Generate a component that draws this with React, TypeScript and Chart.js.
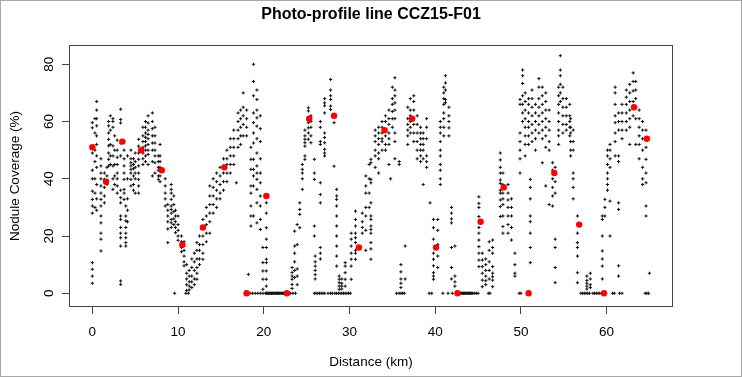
import { useEffect, useRef } from "react";
import { Chart, registerables } from "chart.js";

Chart.register(...registerables);

const chartTitle = "Photo-profile line CCZ15-F01";
const xAxisLabel = "Distance (km)";
const yAxisLabel = "Nodule Coverage (%)";
const xTicks = [0, 10, 20, 30, 40, 50, 60];
const yTicks = [0, 20, 40, 60, 80];
const xRange = [-2.61, 67.63];
const yRange = [-4.44, 86.39];

// red dots (per-station averages)
const meanKm = [0, 1.6, 3.5, 5.7, 8.1, 10.5, 12.9, 15.4, 18.0, 20.3, 22.7, 25.3, 28.2, 31.1, 34.1, 37.3, 40.1, 42.6, 45.3, 48.0, 50.9, 53.9, 56.8, 59.7, 63.2, 64.7];
const meanCoverage = [51, 39, 53, 50, 43, 17, 23, 44, 0, 34, 0, 61, 62, 16, 57, 61, 16, 0, 25, 37, 0, 42, 24, 0, 65, 54];

// photo readings with zero coverage
const zeroKm = [
  9.6, 10.9, 11.2,
  18.4, 18.7, 19.0, 19.3, 19.6, 19.9,
  20.2, 20.3, 20.4, 20.5, 20.6, 20.7, 20.8, 20.9, 21.0, 21.1, 21.2, 21.3, 21.4, 21.5, 21.6, 21.7, 21.8, 21.9, 22.0, 22.1, 22.2, 22.3, 22.4, 22.5, 22.6, 22.8, 22.9, 23.1, 23.4, 23.7,
  25.9, 26.1, 26.3, 26.5, 26.7, 26.9, 27.1, 27.5, 27.8, 28.0, 28.3, 28.5, 28.7, 28.9, 29.1, 29.3, 29.5, 29.7, 29.9, 30.1,
  35.5, 35.8, 36.0, 36.2, 36.4,
  39.3, 39.6, 40.9, 41.5, 42.0,
  42.8, 42.9, 43.0, 43.1, 43.2, 43.3, 43.4, 43.5, 43.6, 43.7, 43.8, 43.9, 44.0, 44.1, 44.2, 44.3, 44.4, 44.6, 44.8, 45.0,
  46.2, 46.4,
  49.8, 50.0, 51.0,
  57.0, 57.2, 57.4, 57.6, 57.8, 58.0, 58.4, 58.6, 58.8, 59.0, 59.2, 59.4, 60.7, 60.9, 61.5, 61.8,
  64.5, 64.7, 64.9,
];

// [distance km, coverage readings %]
const segmentKm0to9: [number, number[]][] = [
  [0.0, [59.6, 57.8, 49, 43, 40, 35.7, 32.8, 30.5, 28, 10.7, 8.4, 6, 3.5]],
  [0.3, [61, 56, 50, 46, 40, 35, 30]],
  [0.5, [67, 64, 61, 58.5, 55, 52, 48, 44, 38, 33, 29]],
  [1.0, [47, 44.5, 42, 40, 37.5, 35, 32.8, 30.5, 27, 24.6, 21, 18.9, 14.8]],
  [1.4, [42, 39.8, 37, 34, 31.6]],
  [1.7, [44, 41, 38]],
  [1.9, [60, 58.5, 56, 53.8, 51.5, 49, 46.8, 44.5]],
  [2.1, [62, 57, 52, 48, 45]],
  [2.4, [61, 60, 58, 51.5, 48, 44.5, 40, 36.3]],
  [2.6, [55, 50, 45, 41, 38]],
  [2.9, [53.5, 50, 47.5, 45, 42, 40, 37.5, 35]],
  [3.3, [64.3, 60.7, 59.5, 52.5, 48, 36, 33.4, 31.6, 27, 25.8, 23, 21, 19.4, 16.5, 4.3, 3.1]],
  [3.7, [50, 47, 44.5, 42, 39.8, 36.3, 35, 32.8]],
  [3.9, [30.5, 27, 25.3, 23, 21, 19.4, 17.7, 16.5]],
  [4.1, [48, 40, 33, 29, 25]],
  [4.5, [50, 47, 45.6, 44.5, 43.3, 42, 39.8, 37.5]],
  [4.8, [47, 45, 43.5, 41, 38, 36]],
  [5.0, [49, 46, 44, 42, 40, 35]],
  [5.4, [53.8, 51.4, 49, 46.8, 44.5, 42, 39.8, 37.5, 35]],
  [5.9, [58, 55, 53, 51, 49, 47, 45]],
  [6.2, [60, 58, 56, 54.5, 53, 51.5, 50, 48, 46]],
  [6.5, [62, 59.5, 57, 55.5, 54, 52, 50, 48.5, 45]],
  [7.0, [63, 60, 57.5, 55, 52.5, 50, 46, 41]],
  [7.3, [58, 55, 52.5, 50, 48, 45.6, 42]],
  [7.7, [48, 46, 44, 43, 41, 39.8]],
  [7.9, [52, 48, 46, 44, 41, 39]],
  [8.5, [40, 37.5, 35, 33, 30.5]],
  [8.8, [31, 29, 27, 25, 22.5, 17.7]],
];

const segmentKm9to18: [number, number[]][] = [
  [9.2, [38, 36.3, 35, 32.8, 30.5, 29.3, 28, 25.8, 24.6, 23]],
  [9.5, [34, 31, 28.5, 26, 24]],
  [9.7, [29, 27, 25, 23, 21.2]],
  [10.0, [27, 24, 22, 20, 18.5]],
  [10.4, [20, 18, 16, 14.5]],
  [10.7, [18, 15, 13, 11, 9.6]],
  [11.0, [10, 7, 5, 3, 1]],
  [11.3, [8, 6, 4, 2.5, 1.2]],
  [11.6, [12, 9, 6, 4, 2]],
  [11.9, [14, 11, 8, 5, 3]],
  [12.2, [17.7, 15, 12, 9, 7, 4.9]],
  [12.5, [20, 17, 15, 12, 10]],
  [12.9, [25.8, 23, 20, 17, 14, 11.9]],
  [13.3, [30, 27, 24, 21, 18]],
  [13.7, [37.5, 34, 31, 28, 25, 21]],
  [14.1, [40, 37, 34, 31, 28]],
  [14.5, [42, 39, 36, 33, 30]],
  [14.9, [44, 41, 38, 35, 33]],
  [15.3, [47, 44.5, 42, 39, 36]],
  [15.7, [50, 47, 45, 42, 39]],
  [16.1, [54, 51, 48, 45, 42]],
  [16.5, [57, 54, 51, 48, 45]],
  [16.8, [38.6]],
  [17.0, [63, 60, 57, 54, 51]],
  [17.3, [64, 61, 58, 55, 52]],
  [17.6, [70, 65, 62, 59, 55]],
  [18.0, [64, 61, 58, 55]],
];

const segmentKm18to32: [number, number[]][] = [
  [18.2, [6.6]],
  [18.5, [51, 46.8, 43.3, 37.5, 35, 30.5, 27, 23.5]],
  [18.8, [80, 74, 69, 63, 59.6, 56, 52.5, 46.8, 43.3, 41, 37.5, 27]],
  [19.2, [71, 67.7, 64, 61.3, 58.4, 54, 49, 44.5, 42, 39.8, 36.3, 31.6, 24.6]],
  [19.6, [62, 57.5, 53, 47, 42, 38.6, 34, 30.5, 25.8, 22.3]],
  [19.9, [16, 10.7, 7.8, 4.9, 1.4]],
  [20.3, [31.6, 28, 22.9, 18.9, 16, 11.9, 10.7, 7.8, 4.9, 2.5]],
  [23.3, [9, 7.3, 6, 4.9, 3.1, 1.7]],
  [23.6, [21.7, 16.5, 14, 11, 8, 5.5]],
  [23.9, [24, 17, 8.5, 6, 3]],
  [24.2, [31.6, 29.3, 27.6, 22.9]],
  [24.5, [36.3, 40, 42, 43.3, 45]],
  [24.8, [46.8, 48, 51.4, 52.6, 53.8, 55, 57]],
  [25.2, [64.8, 63.7, 59.6, 57.8, 56, 53.8]],
  [25.5, [62, 60, 58, 55, 52.6]],
  [25.9, [46.8, 42, 39.8, 23.5, 20]],
  [26.0, [13, 11, 9.5, 8, 6.5, 5]],
  [26.6, [60, 58, 53, 52, 38.6, 34.5, 31.6, 16, 14, 12]],
  [27.1, [68, 66.5, 65.5, 63, 56, 54.4, 52.6, 50.3, 49, 48]],
  [27.8, [74.7, 71, 69, 67.7, 65.4, 64.2]],
  [28.2, [59.6, 44.4]],
  [28.5, [36.3, 34, 32.8, 30.5, 27, 23.5, 20, 16.5, 13, 9.5]],
  [28.8, [6, 4.9, 3.7, 2.5, 1.4]],
  [29.1, [5, 3.5, 2.5, 1.5]],
  [29.5, [10.7, 9.5, 7.2, 4.9, 2.5]],
  [30.2, [21, 18.9, 16.5, 14, 11.9, 9.5, 4.9]],
  [30.7, [28.7, 25.8, 23.5, 21, 19.4, 17.7, 15, 14, 11.9]],
  [31.5, [28, 25, 23, 21]],
  [31.9, [41, 37.5, 35, 30, 27, 22, 15]],
  [32.3, [45, 40, 35, 30]],
];

const segmentKm32to45: [number, number[]][] = [
  [32.5, [46.8, 45.6, 39.8, 38.6, 31.6, 27, 25.8, 23.5, 22.3, 21, 17.7, 15.5, 11.9]],
  [33.0, [57, 55, 53, 50, 48, 44]],
  [33.4, [58, 56, 54, 52, 49, 47, 42]],
  [33.8, [60, 58, 56, 54, 53, 50]],
  [34.2, [62, 60, 57, 55, 52, 50]],
  [34.6, [64, 61, 59, 56, 54, 52, 45]],
  [34.8, [40]],
  [35.0, [72, 68, 66, 63.5, 61, 58]],
  [35.3, [75.3, 71, 69, 66.5, 64, 61, 56, 53, 47]],
  [35.8, [46, 45]],
  [36.0, [10, 7.5, 5, 3.5, 2]],
  [36.5, [16.5, 5]],
  [36.8, [65, 61, 59, 57, 55, 52]],
  [37.1, [68, 64, 62, 60, 58, 56]],
  [37.5, [69, 67, 64, 61, 59, 56, 53]],
  [37.9, [62, 59, 56, 53, 50, 47]],
  [38.3, [58, 56, 54, 52, 50, 48, 46]],
  [38.6, [56, 54, 52, 50, 47, 38]],
  [39.0, [61, 58, 54, 48, 46, 44]],
  [39.4, [31.6]],
  [39.8, [25.8, 22.9, 18.9, 14, 11.9, 9.6, 7.2, 6, 4.9]],
  [40.3, [25.8, 22, 17, 13, 9]],
  [40.6, [60, 58, 56, 53, 50, 48, 45, 43, 40, 38]],
  [41.0, [72, 70, 68, 66, 63, 61, 58, 55]],
  [41.2, [76, 73.5, 71, 67.7, 66.6]],
  [41.6, [65, 62, 60, 57.8, 55]],
  [41.9, [30, 28, 26, 24.6, 16, 9, 5]],
  [42.3, [16.5, 6, 4, 2.5]],
];

const segmentKm45to56: [number, number[]][] = [
  [45.1, [33.7, 31.4, 30, 26.8, 23, 21, 18.6, 16.3, 14, 11.6, 9.3]],
  [45.5, [14, 11.6, 9.3, 7, 4.6, 2.3]],
  [45.9, [12, 10, 8, 6, 4.4, 3]],
  [46.3, [18, 15, 11, 8, 5]],
  [46.7, [18.6, 16, 14, 9.3, 7, 5.8, 4.6, 2.3]],
  [47.6, [49, 46.6, 44, 42, 39.6, 38.4, 36, 35, 32.6, 30.3, 26.8]],
  [47.9, [42, 38, 35, 33, 31, 27, 23.3, 21]],
  [48.5, [38, 35, 32.6, 30, 27, 24, 21]],
  [48.9, [33, 30, 27, 23, 18.6]],
  [49.3, [14, 10, 7, 6]],
  [49.9, [67.7, 66, 56, 53, 50, 47, 42]],
  [50.2, [78, 76, 73.3, 69, 66, 63, 60]],
  [50.5, [70, 67, 64, 61, 58, 55, 52, 48]],
  [50.9, [68, 66, 63, 60, 58, 55, 52]],
  [51.1, [39.8, 37, 33, 27, 25, 21, 16, 10.7]],
  [51.3, [71, 68, 65, 62, 59, 56, 53]],
  [51.7, [66, 63, 60, 57, 54, 50]],
  [52.1, [75, 72, 68, 65, 62, 59, 56]],
  [52.5, [72, 69, 66, 63, 60, 57, 54, 45.6]],
  [52.9, [70, 67, 64, 61, 58, 55, 51, 37.5]],
  [53.3, [64, 60, 57, 53, 50, 31]],
  [53.7, [45.6, 43, 40, 37, 34, 30.5]],
  [54.0, [44, 39, 35, 18.9, 16, 9, 3.7]],
  [54.4, [72, 69, 66, 63, 60, 57, 55, 52]],
  [54.6, [83, 78, 76, 73, 70, 67]],
  [54.9, [72, 68, 65, 62, 59, 56]],
  [55.3, [68, 65, 62, 59, 57]],
  [55.7, [66, 62, 60, 58, 55]],
];

const segmentKm56to65: [number, number[]][] = [
  [55.8, [61, 58, 56, 53, 50, 48]],
  [56.1, [57, 53, 50, 42, 40, 37, 33]],
  [56.6, [27, 21, 17.7, 16, 13, 7.2, 3.7]],
  [57.7, [6, 4.5, 3.5, 2.5, 1.5]],
  [58.1, [7, 5, 3, 2]],
  [59.5, [27, 25.8, 20, 14.8, 12, 9.5, 5]],
  [59.8, [32.8, 30, 27]],
  [60.1, [50, 48, 45, 42, 40, 38, 36]],
  [60.4, [52, 50, 47, 44, 32.2, 20]],
  [61.0, [72, 70, 66, 62, 59.6, 56, 53, 48]],
  [61.4, [63, 60, 57, 48, 46, 31.6, 29.3, 9.6, 6]],
  [61.8, [66, 63, 60, 57, 54]],
  [62.3, [71, 68.5, 66, 63, 60, 57]],
  [62.7, [73, 70, 67, 64, 61, 58, 52]],
  [63.1, [77, 74, 70.7, 67, 65, 62]],
  [63.4, [74, 71, 68, 65, 61, 52]],
  [63.8, [64, 61, 58, 55, 52, 47]],
  [64.2, [60, 57, 54, 50, 44, 40, 38]],
  [64.6, [57, 54, 51, 46.8, 42, 38.6, 30.5, 27]],
  [65.0, [7]],
];

const FONT = '"Liberation Sans", Arial, Helvetica, sans-serif';
const W = 742;
const H = 377;
const PLOT = { left: 70, right: 672, top: 46, bottom: 306 };

const boxPlugin = {
  id: "rBox",
  afterDraw(chart: any) {
    const { ctx, chartArea } = chart;
    ctx.save();
    ctx.strokeStyle = "#444";
    ctx.lineWidth = 1;
    ctx.strokeRect(chartArea.left - 0.5, chartArea.top - 0.5, chartArea.right - chartArea.left + 1, chartArea.bottom - chartArea.top + 1);
    ctx.strokeStyle = "#a8a8a8";
    ctx.strokeRect(0.5, 0.5, W - 1, H - 1);
    ctx.restore();
  },
};

export default function App() {
  const ref = useRef<HTMLCanvasElement>(null);
  useEffect(() => {
    document.body.style.margin = "0";
    const columns = [
      ...segmentKm0to9,
      ...segmentKm9to18,
      ...segmentKm18to32,
      ...segmentKm32to45,
      ...segmentKm45to56,
      ...segmentKm56to65,
    ];
    const readings = columns
      .flatMap(([km, vals]) => vals.map((v) => ({ x: km, y: v })))
      .concat(zeroKm.map((km) => ({ x: km, y: 0 })));
    const means = meanKm.map((km, i) => ({ x: km, y: meanCoverage[i] }));

    const chart = new Chart(ref.current as HTMLCanvasElement, {
      type: "scatter",
      data: {
        datasets: [
          {
            label: "mean",
            data: means,
            order: 0,
            pointStyle: "circle",
            pointRadius: 3.2,
            pointHoverRadius: 3.2,
            pointBackgroundColor: "#ff0000",
            pointBorderColor: "#ff0000",
            pointBorderWidth: 0,
          },
          {
            label: "readings",
            data: readings,
            order: 1,
            pointStyle: "cross",
            pointRadius: 1.6,
            pointHoverRadius: 1.6,
            pointBorderColor: "#111",
            pointBorderWidth: 1,
          },
        ],
      },
      options: {
        responsive: false,
        animation: false,
        events: [],
        devicePixelRatio: 1,
        layout: { padding: 0 },
        plugins: {
          legend: { display: false },
          tooltip: { enabled: false },
          title: {
            display: true,
            text: chartTitle,
            color: "#000",
            font: { family: FONT, size: 16, weight: "bold" },
            padding: { top: 5, bottom: PLOT.top - 5 - 19.2 },
          },
        },
        scales: {
          x: {
            type: "linear",
            position: "bottom",
            min: xRange[0],
            max: xRange[1],
            afterBuildTicks: (s: any) => {
              s.ticks = xTicks.map((v) => ({ value: v }));
            },
            afterFit: (s: any) => {
              s.height = H - PLOT.bottom;
            },
            grid: { display: true, drawOnChartArea: false, drawTicks: true, tickLength: 8, color: "#444", lineWidth: 1 },
            border: { display: false },
            ticks: { color: "#000", font: { family: FONT, size: 13.5 }, padding: 10, autoSkip: false, maxRotation: 0 },
            title: { display: true, text: xAxisLabel, color: "#000", font: { family: FONT, size: 13.5 }, padding: { top: 0, bottom: 7 } },
          },
          y: {
            type: "linear",
            position: "left",
            min: yRange[0],
            max: yRange[1],
            afterBuildTicks: (s: any) => {
              s.ticks = yTicks.map((v) => ({ value: v }));
            },
            afterFit: (s: any) => {
              s.width = PLOT.left;
            },
            grid: { display: true, drawOnChartArea: false, drawTicks: true, tickLength: 8, color: "#444", lineWidth: 1 },
            border: { display: false },
            ticks: { color: "#000", font: { family: FONT, size: 13.5 }, padding: 5, autoSkip: false, minRotation: 90, maxRotation: 90, crossAlign: "center" },
            title: { display: true, text: yAxisLabel, color: "#000", font: { family: FONT, size: 13.5 }, padding: { top: 7, bottom: 0 } },
          },
          rightMargin: {
            type: "linear",
            position: "right",
            display: true,
            afterFit: (s: any) => {
              s.width = W - PLOT.right;
            },
            grid: { display: false, drawTicks: false },
            border: { display: false },
            ticks: { display: false },
          },
        },
      },
      plugins: [boxPlugin],
    } as any);
    return () => chart.destroy();
  }, []);
  return (
    <div style={{ width: W, height: H, background: "#fff" }}>
      <canvas ref={ref} width={W} height={H} style={{ display: "block" }} />
    </div>
  );
}
